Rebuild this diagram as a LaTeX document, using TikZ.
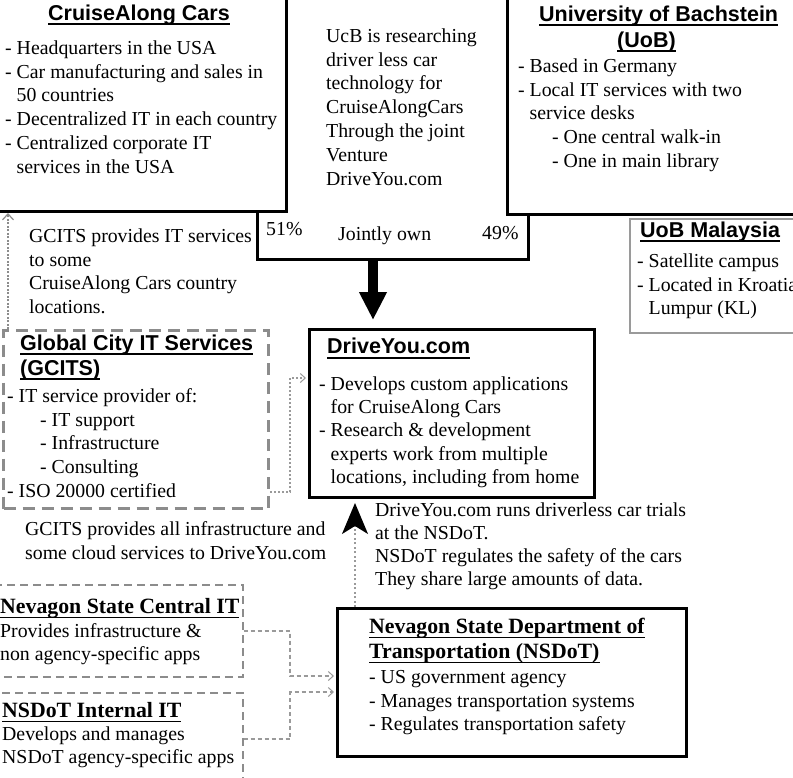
\documentclass[tikz,border=0pt]{standalone}
\usepackage{fontspec}
\setmainfont{Liberation Serif}
\newfontfamily\hdfont{Liberation Sans}
\usetikzlibrary{arrows.meta,calc}
\definecolor{dgray}{HTML}{8C8C8C}
\definecolor{lgray}{HTML}{9A9A9A}
\newcommand\uln[2][5.4pt]{\setbox0\hbox{#2}\rlap{\rule[-#1]{\wd0}{1.8pt}}\box0}
\newcommand\fs{\rule{0pt}{16pt}}
\newcommand\ind{\hspace*{11.5pt}}
\newcommand\sub{\hspace*{34pt}}
\begin{document}
\begin{tikzpicture}[x=1pt,y=-1pt,
  txt/.style={inner sep=0pt, anchor=north west, align=left, font=\fontsize{19.8}{23.8}\selectfont},
  txtb/.style={inner sep=0pt, anchor=base west, font=\fontsize{19.8}{23.8}\selectfont},
  hd/.style={inner sep=0pt, anchor=base west, font=\hdfont\bfseries\fontsize{21.5}{24}\selectfont},
  hdt/.style={inner sep=0pt, anchor=base west, font=\bfseries\fontsize{21.8}{24}\selectfont},
  bigbox/.style={draw=black, line width=3pt, fill=white, anchor=north west, inner sep=0pt},
  jbox/.style={draw=black, line width=2.5pt, fill=white, anchor=north west, inner sep=0pt},
  graybox/.style={draw=lgray, line width=1.5pt, fill=white, anchor=north west, inner sep=0pt},
  dashbox/.style={draw=dgray, line width=3pt, dash pattern=on 12pt off 7pt, anchor=north west, inner sep=0pt},
  dashboxthin/.style={draw=dgray, line width=1.5pt, dash pattern=on 8pt off 5pt, anchor=north west, inner sep=0pt},
  dotarrow/.style={draw=dgray, line width=2.8pt, dash pattern=on 2pt off 1.5pt, -{Straight Barb[length=6pt,width=11pt,line width=1.2pt]}},
  dotconn/.style={draw=lgray, line width=1.5pt, dash pattern=on 2pt off 2pt, -{Straight Barb[length=5pt,width=9pt,line width=1pt]}, shorten >=2pt},
  dashconn/.style={draw=lgray, line width=1.3pt, dash pattern=on 4pt off 3pt, -{Straight Barb[length=5pt,width=9pt,line width=1pt]}, shorten >=2pt},
  bigarrow/.style={draw=black, line width=10pt, -{Triangle[width=26pt,length=28pt]}, shorten >=8pt}
]
\useasboundingbox (0,0) rectangle (793,777);
\clip (0,0) rectangle (793,777);
\fill[white] (0,0) rectangle (793,777);

% ---------- boxes ----------
\node[jbox, minimum width=271pt, minimum height=268pt] (jointbox) at (256,-10) {};
\node[bigbox, minimum width=295pt, minimum height=220pt] (cacbox) at (-10,-10) {};
\node[bigbox, minimum width=300pt, minimum height=223pt] (uobbox) at (506,-10) {};
\node[graybox, minimum width=180pt, minimum height=114pt] (uobmbox) at (629,218) {};
\node[dashbox, minimum width=265pt, minimum height=178pt] (gcitsbox) at (2,329) {};
\node[bigbox, minimum width=285pt, minimum height=168pt] (drivebox) at (308,328) {};
\node[dashboxthin, minimum width=252pt, minimum height=92pt] (nscitbox) at (-10,584) {};
\node[dashboxthin, minimum width=252pt, minimum height=100pt] (nsintbox) at (-10,692) {};
\node[bigbox, minimum width=349pt, minimum height=148pt] (nsdotbox) at (336,607) {};

% ---------- connectors ----------
\coordinate (ax) at (373,0);
\draw[bigarrow] (ax |- jointbox.south) -- (ax |- drivebox.north);

\coordinate (gx) at (8,0);
\draw[dotarrow] (gx |- gcitsbox.north) -- (gx |- cacbox.south);

\coordinate (m1) at (290,492);
\coordinate (m2) at (290,378);
\draw[dotconn] (gcitsbox.east |- m1) -- (m1) -- (m2) -- (drivebox.west |- m2);

\coordinate (nx) at (355,0);
\draw[draw=lgray, line width=1.5pt, dash pattern=on 2pt off 2.5pt,
  -{Stealth[length=31pt,width=26pt,inset=8pt,color=black]}, shorten >=4pt]
  (nx |- nsdotbox.north) -- (nx |- drivebox.south);

\coordinate (m3) at (290,631);
\coordinate (m4) at (290,676);
\draw[dashconn] (nscitbox.east |- m3) -- (m3) -- (m4) -- (nsdotbox.west |- m4);
\coordinate (m5) at (290,739);
\coordinate (m6) at (290,692);
\draw[dashconn] (nsintbox.east |- m5) -- (m5) -- (m6) -- (nsdotbox.west |- m6);

% ---------- CruiseAlong Cars ----------
\node[hd] (cact) at (48,20) {\uln[4.5pt]{CruiseAlong Cars}};
\node[txt] (cacb) at (5,38) {\fs- Headquarters in the USA\\- Car manufacturing and sales in\\\ind 50 countries\\- Decentralized IT in each country\\- Centralized corporate IT\\\ind services in the USA};

% ---------- Joint venture ----------
\node[txt] (jtxt) at (326,26) {\fs UcB is researching\\driver less car\\technology for\\CruiseAlongCars\\Through the joint\\Venture\\DriveYou.com};
\node[txtb] (p51) at (266,235) {51\%};
\node[txtb] (jown) at (338,240) {Jointly own};
\node[txtb] (p49) at (482,239) {49\%};

% ---------- UoB ----------
\node[hd] (uobt1) at (539,21) {\uln[4.5pt]{University of Bachstein}};
\node[hd] (uobt2) at (617,47) {\uln[4.5pt]{(UoB)}};
\node[txt] (uobb) at (518,56) {\fs- Based in Germany\\- Local IT services with two\\\ind service desks\\\sub - One central walk-in\\\sub - One in main library};

% ---------- UoB Malaysia ----------
\node[hd] (uobmt) at (640,237) {\uln[4.5pt]{UoB Malaysia}};
\node[txt] (uobmb) at (637,251) {\fs- Satellite campus\\- Located in Kroatia\\\ind Lumpur (KL)};

% ---------- GCITS ----------
\node[txt] (gcup) at (29,226) {\fs GCITS provides IT services\\to some\\CruiseAlong Cars country\\locations.};
\node[hd] (gct1) at (20,350) {\uln[4.5pt]{Global City IT Services}};
\node[hd] (gct2) at (20,375) {\uln[4.5pt]{(GCITS)}};
\node[txt] (gcb) at (7,386) {\fs- IT service provider of:\\\hspace*{33pt}- IT support\\\hspace*{33pt}- Infrastructure\\\hspace*{33pt}- Consulting\\- ISO 20000 certified};
\node[txt] (gcdown) at (25,519) {\fs GCITS provides all infrastructure and\\some cloud services to DriveYou.com};

% ---------- DriveYou ----------
\node[hd] (drt) at (327,353) {\uln[6pt]{DriveYou.com}};
\node[txt, font=\fontsize{19.8}{23.3}\selectfont] (drb) at (319,374) {\fs- Develops custom applications\\\ind for CruiseAlong Cars\\- Research \& development\\\ind experts work from multiple\\\ind locations, including from home};
\node[txt, font=\fontsize{19.8}{23}\selectfont] (drnote) at (375,500) {\fs DriveYou.com runs driverless car trials\\at the NSDoT.\\NSDoT regulates the safety of the cars\\They share large amounts of data.};

% ---------- Nevagon ----------
\node[hdt] (nsct) at (0,613) {\uln{Nevagon State Central IT}};
\node[txt, font=\fontsize{19.8}{23.3}\selectfont] (nscb) at (0,621) {\fs Provides infrastructure \&\\non agency-specific apps};
\node[hdt] (nsit) at (2,717) {\uln{NSDoT Internal IT}};
\node[txt, font=\fontsize{19.8}{23.3}\selectfont] (nsib) at (2,724) {\fs Develops and manages\\NSDoT agency-specific apps};

\node[hdt] (nsdt1) at (369,633) {\uln{Nevagon State Department of}};
\node[hdt] (nsdt2) at (369,658) {\uln{Transportation (NSDoT)}};
\node[txt] (nsdb) at (369,667) {\fs- US government agency\\- Manages transportation systems\\- Regulates transportation safety};
\end{tikzpicture}
\end{document}
